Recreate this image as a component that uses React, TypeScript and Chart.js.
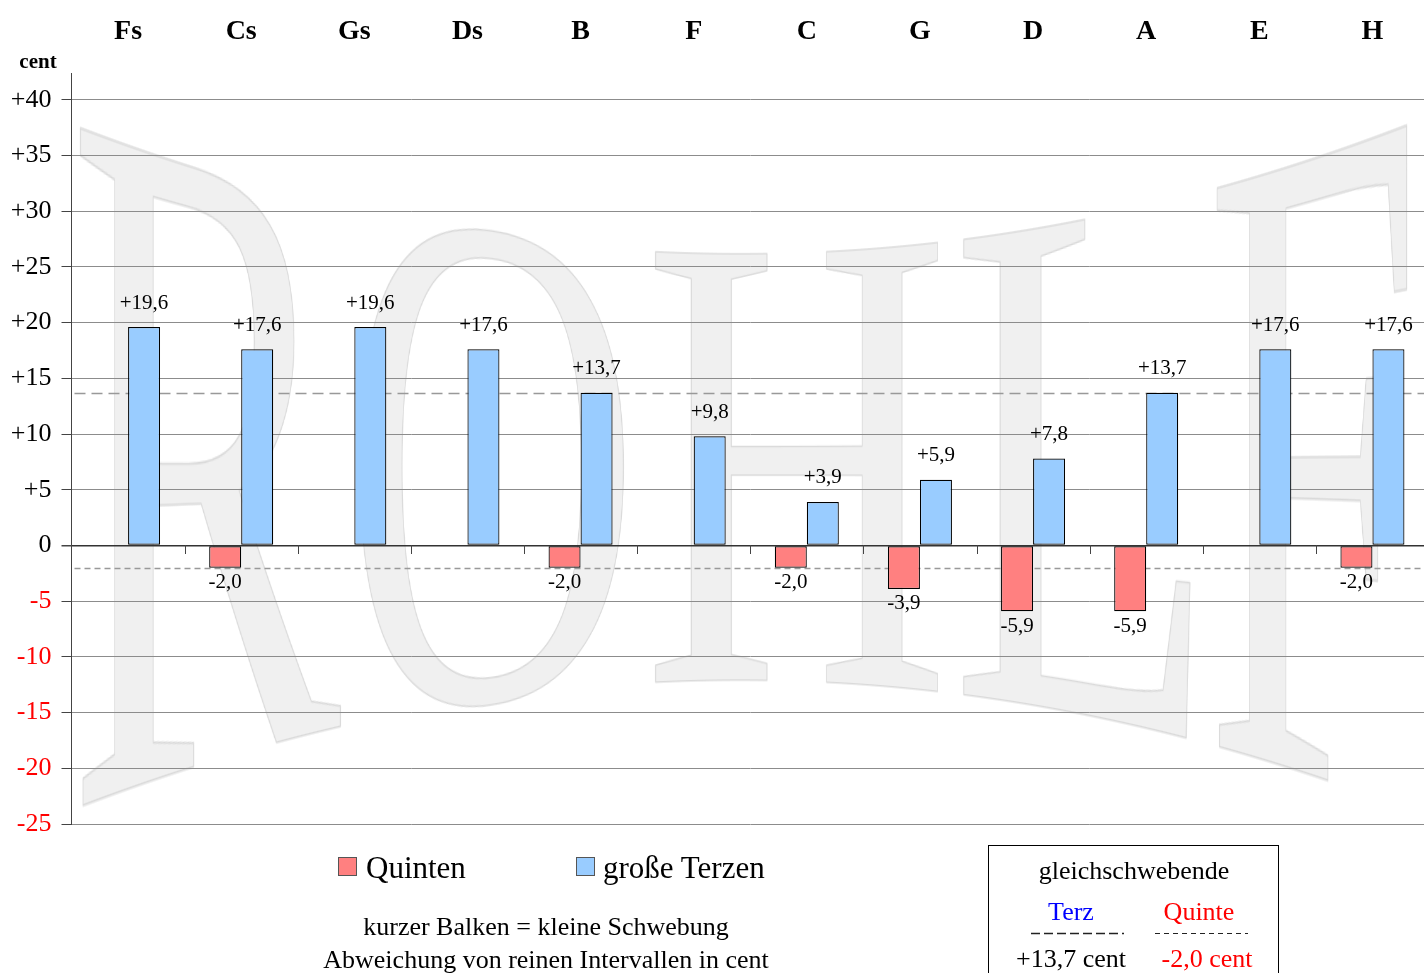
import React, { useEffect, useRef } from 'react';
import { Chart, registerables } from 'chart.js';

Chart.register(...registerables);

// ---------- data ----------
const categories = ['Fs', 'Cs', 'Gs', 'Ds', 'B', 'F', 'C', 'G', 'D', 'A', 'E', 'H'];
const quintenValues = [0, -2.0, 0, 0, -2.0, 0, -2.0, -3.9, -5.9, -5.9, 0, -2.0];
const terzenValues = [19.6, 17.6, 19.6, 17.6, 13.7, 9.8, 3.9, 5.9, 7.8, 13.7, 17.6, 17.6];
const seriesNames = ['Quinten', 'große Terzen'];
const equalTerz = 13.7;
const equalQuinte = -2.0;
const yMin = -25;
const yMax = 40;
const yStep = 5;
const watermarkText = 'ROHLF';

// ---------- styles / layout ----------
const SERIF = '"Liberation Serif", "Times New Roman", Times, serif';
const RED = '#FF8080';
const BLUE = '#99CCFF';
const W = 1424;
const H = 973;
const CANVAS_W = 1429;
// horizontal ink span of each watermark letter on the canvas
const wmSpans: number[][] = [
  [75, 343],
  [356, 626],
  [650, 942],
  [958, 1195],
  [1212, 1411],
];

function fmtValue(v: number): string {
  const s = Math.abs(v).toFixed(1).replace('.', ',');
  if (v > 0) return '+' + s;
  if (v < 0) return '-' + s;
  return s;
}
function fmtTick(v: number): string {
  return v > 0 ? '+' + v : String(v);
}

// ---------- watermark ----------
let wmCache: any = null;
function getWatermark() {
  if (wmCache) return wmCache;
  const size = 650;
  const font = `${size}px "Liberation Serif", "Times New Roman", serif`;
  const probe = document.createElement('canvas').getContext('2d')!;
  probe.font = font;
  const full = probe.measureText(watermarkText);
  const capH = probe.measureText('H').actualBoundingBoxAscent;
  const pad = 10;
  const asc = full.actualBoundingBoxAscent;
  const desc = full.actualBoundingBoxDescent;
  const height = Math.ceil(asc + desc + pad * 2);
  const base = pad + asc;
  const letters = watermarkText.split('').map((ch) => {
    const m = probe.measureText(ch);
    const inkL = m.actualBoundingBoxLeft;
    const inkR = m.actualBoundingBoxRight;
    const c = document.createElement('canvas');
    c.width = Math.ceil(inkL + inkR + pad * 2);
    c.height = height;
    const g = c.getContext('2d')!;
    g.font = font;
    g.fillStyle = '#f0f0f0';
    g.strokeStyle = '#dadada';
    g.lineWidth = 1.5;
    g.lineJoin = 'round';
    g.fillText(ch, pad + inkL, base);
    g.strokeText(ch, pad + inkL, base);
    return { c, x0: pad, w: inkL + inkR };
  });
  wmCache = { letters, capTop: base - capH, capH, height };
  return wmCache;
}

function drawWatermark(ctx: CanvasRenderingContext2D) {
  const wm = getWatermark();
  wm.letters.forEach((L: any, li: number) => {
    const [X0, X1] = wmSpans[li];
    const n = X1 - X0;
    const sw = L.w / n;
    for (let i = 0; i < n; i++) {
      const dx = X0 + i;
      const d = dx + 0.5 - 740;
      const top = 253 - 0.00029 * d * d;
      const bot = 680 + 0.00029 * d * d;
      const k = (bot - top) / wm.capH;
      ctx.drawImage(L.c, L.x0 + i * sw, 0, sw, wm.height, dx, top - wm.capTop * k, 1, wm.height * k);
    }
  });
}

const decorPlugin = {
  id: 'decor',
  beforeDraw(chart: any) {
    const ctx = chart.ctx as CanvasRenderingContext2D;
    ctx.save();
    ctx.fillStyle = '#ffffff';
    ctx.fillRect(0, 0, chart.width, chart.height);
    drawWatermark(ctx);
    ctx.restore();
  },
  beforeDatasetsDraw(chart: any) {
    const ctx = chart.ctx as CanvasRenderingContext2D;
    const { chartArea } = chart;
    const ys = chart.scales.y;
    const xs = chart.scales.x;
    ctx.save();
    ctx.strokeStyle = '#999999';
    ctx.lineWidth = 1.3;
    const yT = Math.round(ys.getPixelForValue(equalTerz)) + 0.5;
    ctx.setLineDash([11, 6]);
    ctx.beginPath();
    ctx.moveTo(chartArea.left + 3, yT);
    ctx.lineTo(chartArea.right, yT);
    ctx.stroke();
    const yQ = Math.round(ys.getPixelForValue(equalQuinte)) + 0.5;
    ctx.setLineDash([6, 4]);
    ctx.beginPath();
    ctx.moveTo(chartArea.left + 3, yQ);
    ctx.lineTo(chartArea.right, yQ);
    ctx.stroke();
    // category tick marks on the zero line
    ctx.setLineDash([]);
    ctx.strokeStyle = '#444';
    ctx.lineWidth = 1;
    const y0 = Math.round(ys.getPixelForValue(0));
    const step = (xs.right - xs.left) / categories.length;
    ctx.beginPath();
    for (let i = 1; i < categories.length; i++) {
      const px = Math.round(xs.left + i * step) + 0.5;
      ctx.moveTo(px, y0);
      ctx.lineTo(px, y0 + 9);
    }
    ctx.stroke();
    ctx.restore();
  },
  afterDatasetsDraw(chart: any) {
    const ctx = chart.ctx as CanvasRenderingContext2D;
    ctx.save();
    ctx.font = `21px ${SERIF}`;
    ctx.fillStyle = '#000';
    ctx.textAlign = 'center';
    ctx.textBaseline = 'middle';
    chart.data.datasets.forEach((ds: any, di: number) => {
      const meta = chart.getDatasetMeta(di);
      meta.data.forEach((bar: any, i: number) => {
        const v = ds.data[i] as number;
        if (!v) return;
        const yy = v > 0 ? bar.y - 24 : bar.y + 15;
        ctx.fillText(fmtValue(v), bar.x, yy);
      });
    });
    ctx.restore();
  },
};

function ChartCanvas() {
  const ref = useRef<HTMLCanvasElement>(null);
  useEffect(() => {
    if (!ref.current) return;
    Chart.defaults.font.family = SERIF;
    const chart = new Chart(ref.current, {
      type: 'bar',
      data: {
        labels: categories,
        datasets: [
          {
            label: seriesNames[0],
            data: quintenValues,
            backgroundColor: RED,
            borderColor: '#000',
            borderWidth: (c: any) => (c.raw ? 1.2 : 0),
            borderSkipped: false,
            categoryPercentage: 0.566,
            barPercentage: 1,
          },
          {
            label: seriesNames[1],
            data: terzenValues,
            backgroundColor: BLUE,
            borderColor: '#000',
            borderWidth: (c: any) => (c.raw ? 1.2 : 0),
            borderSkipped: false,
            categoryPercentage: 0.566,
            barPercentage: 1,
          },
        ],
      },
      options: {
        responsive: false,
        animation: false,
        maintainAspectRatio: false,
        layout: { padding: { left: 0, right: 0, top: 0, bottom: 149 } },
        plugins: { legend: { display: false }, tooltip: { enabled: false } },
        scales: {
          x: {
            type: 'category',
            position: 'top',
            offset: true,
            grid: { display: false, drawTicks: false },
            border: { display: false },
            ticks: { font: { family: SERIF, size: 28, weight: 'bold' }, color: '#000', padding: 24, maxRotation: 0, autoSkip: false },
            afterFit: (s: any) => {
              s.height = 73;
            },
          },
          y: {
            type: 'linear',
            min: yMin,
            max: yMax + 2.4,
            ticks: {
              stepSize: yStep,
              includeBounds: false,
              font: { family: SERIF, size: 26 },
              color: (c: any) => (c.tick && c.tick.value < 0 ? '#ff0000' : '#000'),
              padding: 10,
              callback: (v: any) => fmtTick(Number(v)),
            },
            afterBuildTicks: (axis: any) => {
              axis.ticks = axis.ticks.filter((t: any) => Math.abs(t.value % yStep) < 1e-9 && t.value <= yMax);
            },
            grid: {
              color: (c: any) => (c.tick && c.tick.value === 0 ? '#333' : '#8c8c8c'),
              lineWidth: (c: any) => (c.tick && c.tick.value === 0 ? 1.5 : 1),
              tickLength: 10,
              tickColor: '#444',
            },
            border: { display: true, color: '#444', width: 1 },
            afterFit: (s: any) => {
              s.width = 71.5;
            },
          },
        },
      },
      plugins: [decorPlugin],
    } as any);
    return () => chart.destroy();
  }, []);
  return <canvas ref={ref} width={CANVAS_W} height={H} style={{ position: 'absolute', left: 0, top: 0, width: CANVAS_W, height: H }} />;
}

function Txt(props: { x: number; y: number; children: any; size?: number; color?: string; bold?: boolean; align?: 'center' | 'left' }) {
  const { x, y, children, size = 26, color = '#000', bold = false, align = 'center' } = props;
  return (
    <div
      style={{
        position: 'absolute',
        left: x,
        top: y,
        transform: align === 'center' ? 'translate(-50%, -50%)' : 'translate(0, -50%)',
        whiteSpace: 'nowrap',
        fontFamily: SERIF,
        fontSize: size,
        lineHeight: 1,
        color,
        fontWeight: bold ? 'bold' : 'normal',
      }}
    >
      {children}
    </div>
  );
}

export default function App() {
  return (
    <div style={{ position: 'absolute', left: 0, top: 0, width: W, height: H, overflow: 'hidden', background: '#fff' }}>
      <ChartCanvas />
      <Txt x={38} y={61} size={21} bold>
        cent
      </Txt>
      {/* legend */}
      <div style={{ position: 'absolute', left: 338, top: 857, width: 19, height: 19, background: RED, border: '1px solid #555', boxSizing: 'border-box' }} />
      <Txt x={366} y={867} size={31} align="left">
        {seriesNames[0]}
      </Txt>
      <div style={{ position: 'absolute', left: 576, top: 857, width: 19, height: 19, background: BLUE, border: '1px solid #555', boxSizing: 'border-box' }} />
      <Txt x={603} y={867} size={31} align="left">
        {seriesNames[1]}
      </Txt>
      <Txt x={546} y={927} size={26}>
        kurzer Balken = kleine Schwebung
      </Txt>
      <Txt x={546} y={960} size={26}>
        Abweichung von reinen Intervallen in cent
      </Txt>
      {/* box */}
      <div style={{ position: 'absolute', left: 988, top: 845, width: 291, height: 160, border: '1px solid #000', boxSizing: 'border-box' }} />
      <Txt x={1134} y={871} size={26}>
        gleichschwebende
      </Txt>
      <Txt x={1071} y={912} size={26} color="#0000ff">
        Terz
      </Txt>
      <Txt x={1199} y={912} size={26} color="#ff0000">
        Quinte
      </Txt>
      <svg style={{ position: 'absolute', left: 0, top: 0 }} width={W} height={H}>
        <line x1={1031} y1={933.5} x2={1124} y2={933.5} stroke="#222" strokeWidth={1.5} strokeDasharray="9 4" />
        <line x1={1155} y1={933.5} x2={1248} y2={933.5} stroke="#222" strokeWidth={1.2} strokeDasharray="5 4" />
      </svg>
      <Txt x={1071} y={959} size={26}>
        {'+' + equalTerz.toFixed(1).replace('.', ',') + ' cent'}
      </Txt>
      <Txt x={1207} y={959} size={26} color="#ff0000">
        {equalQuinte.toFixed(1).replace('.', ',') + ' cent'}
      </Txt>
    </div>
  );
}
